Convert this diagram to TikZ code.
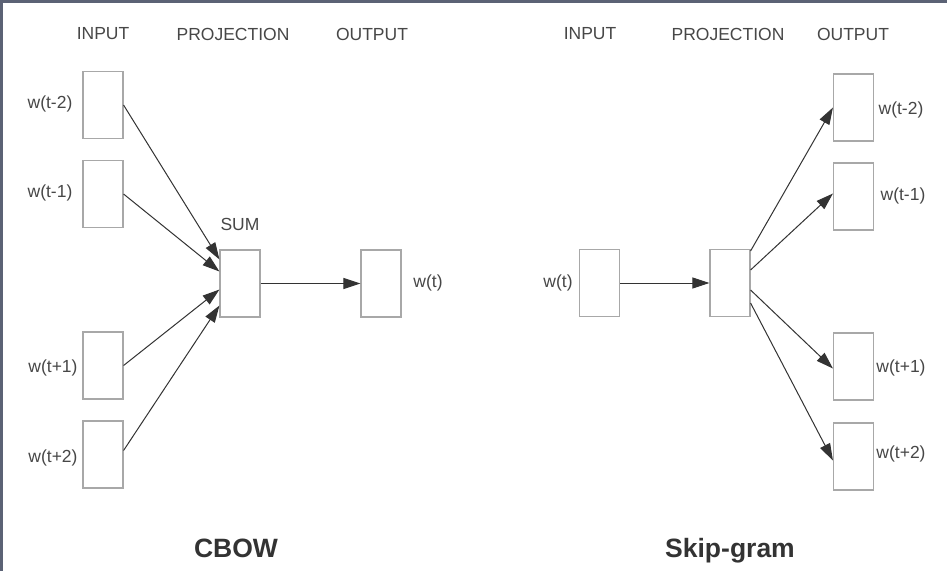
\documentclass[tikz,border=0pt]{standalone}
\usepackage{fontspec}
\setmainfont{Liberation Sans}
\usetikzlibrary{arrows.meta}
\definecolor{frame}{HTML}{5B6275}
\definecolor{boxedge}{HTML}{A8A8A8}
\definecolor{ink}{HTML}{333333}
\tikzset{
  wbox/.style={draw=boxedge, line width=1.1pt, fill=white, minimum width=40pt, minimum height=67pt, inner sep=0pt},
  lbl/.style={text=ink!90, font=\fontsize{17.5}{20}\selectfont, inner sep=0pt},
  hdr/.style={text=ink!90, font=\fontsize{17.5}{20}\selectfont, inner sep=0pt},
  ttl/.style={text=ink, font=\fontsize{26.5}{30}\selectfont\bfseries, inner sep=0pt, anchor=base},
  conn/.style={draw=ink, line width=1pt, -{Triangle[length=17pt,width=11pt]}}
}
\begin{document}
\begin{tikzpicture}[x=1pt,y=-1pt]
\useasboundingbox (0,0) rectangle (947,571);
\fill[white] (0,0) rectangle (947,571);
\fill[frame] (0,0) rectangle (947,3);
\fill[frame] (0,0) rectangle (3,571);

% ---------- CBOW ----------
\node[hdr] (h1) at (103,34) {INPUT};
\node[hdr] (h2) at (233,34) {PROJECTION};
\node[hdr] (h3) at (372,34) {OUTPUT};

\node[wbox] (i1) at (103,105) {};
\node[wbox] (i2) at (103,194) {};
\node[wbox] (i3) at (103,365.5) {};
\node[wbox] (i4) at (103,454.5) {};
\node[lbl] (li1) at (50,104) {w(t-2)};
\node[lbl] (li2) at (50,193) {w(t-1)};
\node[lbl] (li3) at (53,368) {w(t+1)};
\node[lbl] (li4) at (53,458) {w(t+2)};

\node[wbox] (sum) at (240,283.5) {};
\node[lbl] (lsum) at (240,224) {SUM};
\node[wbox] (out) at (381,283.5) {};
\node[lbl] (lout) at (428,283) {w(t)};

\draw[conn] (i1.east) -- ([yshift=24pt]sum.west);
\draw[conn] (i2.east) -- ([yshift=12pt]sum.west);
\draw[conn] (i3.east) -- ([yshift=-6pt]sum.west);
\draw[conn] ([yshift=4pt]i4.east) -- ([yshift=-22pt]sum.west);
\draw[conn] (sum.east) -- (out.west);

\node[ttl] (t1) at (236,557) {CBOW};

% ---------- Skip-gram ----------
\node[hdr] (h4) at (590,34) {INPUT};
\node[hdr] (h5) at (728,34) {PROJECTION};
\node[hdr] (h6) at (853,34) {OUTPUT};

\node[wbox] (in) at (599.5,283) {};
\node[lbl] (lin) at (558,283) {w(t)};
\node[wbox] (proj) at (730,283) {};

\node[wbox] (o1) at (853.5,107.5) {};
\node[wbox] (o2) at (853.5,196.5) {};
\node[wbox] (o3) at (853.5,366.5) {};
\node[wbox] (o4) at (853.5,456.5) {};
\node[lbl] (lo1) at (901,110) {w(t-2)};
\node[lbl] (lo2) at (903,196) {w(t-1)};
\node[lbl] (lo3) at (901,368) {w(t+1)};
\node[lbl] (lo4) at (901,454) {w(t+2)};

\draw[conn] (in.east) -- (proj.west);
\draw[conn] ([yshift=32pt]proj.east) -- (o1.west);
\draw[conn] ([yshift=13pt]proj.east) -- ([yshift=3pt]o2.west);
\draw[conn] ([yshift=-7pt]proj.east) -- ([yshift=-2pt]o3.west);
\draw[conn] ([yshift=-20pt]proj.east) -- ([yshift=-4pt]o4.west);

\node[ttl] (t2) at (730,557) {Skip-gram};
\end{tikzpicture}
\end{document}
